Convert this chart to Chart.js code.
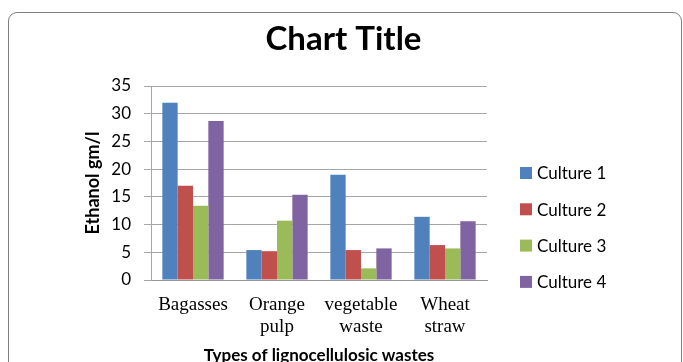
<!DOCTYPE html>
<html>
<head>
<meta charset="utf-8">
<script src="https://cdn.jsdelivr.net/npm/chart.js@4/dist/chart.umd.min.js"></script>
<style>
  html, body { margin: 0; padding: 0; background: #fff; overflow: hidden; }
  #wrap { position: relative; width: 683px; height: 380px; }
  #frame {
    position: absolute; left: 8px; top: 12px; width: 674px; height: 400px;
    border: 1px solid #7f7f7f; border-radius: 9px; box-sizing: border-box;
  }
  #c { position: absolute; left: 0; top: 0; }
</style>
</head>
<body>
<div id="wrap">
  <div id="frame"></div>
  <canvas id="c" width="683" height="380"></canvas>
</div>
<script>
// Ethanol yield per waste type, one series per culture
const categories = ["Bagasses", ["Orange", "pulp"], ["vegetable", "waste"], ["Wheat", "straw"]];
const seriesNames = ["Culture 1", "Culture 2", "Culture 3", "Culture 4"];
const culture1 = [32, 5.4, 19, 11.4];
const culture2 = [17, 5.2, 5.4, 6.3];
const culture3 = [13.4, 10.7, 2.1, 5.7];
const culture4 = [28.7, 15.4, 5.7, 10.6];
const yTicks = [0, 5, 10, 15, 20, 25, 30, 35];
const chartTitle = "Chart Title";
const colors = ["#4f81bd", "#c0504d", "#9bbb59", "#8064a2"];

const seriesValues = [culture1, culture2, culture3, culture4];
const datasets = seriesNames.map((name, i) => ({
  label: name,
  data: seriesValues[i],
  backgroundColor: colors[i],
  borderWidth: 0
}));

const sans = "Lato, 'Open Sans', sans-serif";

// Title centred on the whole canvas, legend at the right of the plot
const frameText = {
  id: "frameText",
  afterDraw(chart) {
    const ctx = chart.ctx;
    ctx.save();
    ctx.fillStyle = "#000";
    ctx.textAlign = "center";
    ctx.textBaseline = "middle";
    ctx.font = "bold 33px " + sans;
    ctx.fillText(chartTitle, chart.width / 2 + 2, 39);

    ctx.font = "17px " + sans;
    ctx.textAlign = "left";
    const x = 520, y0 = 173, step = 36.3, box = 12;
    chart.data.datasets.forEach((ds, i) => {
      const y = y0 + i * step;
      ctx.fillStyle = ds.backgroundColor;
      ctx.fillRect(x, y - box / 2, box, box);
      ctx.fillStyle = "#000";
      ctx.fillText(ds.label, x + box + 5, y + 1);
    });
    ctx.restore();
  }
};

new Chart(document.getElementById("c"), {
  type: "bar",
  data: { labels: categories, datasets },
  plugins: [frameText],
  options: {
    responsive: false,
    animation: false,
    layout: { padding: { left: 80, right: 196, top: 86, bottom: 14 } },
    datasets: { bar: { categoryPercentage: 0.73, barPercentage: 1 } },
    plugins: {
      legend: { display: false },
      tooltip: { enabled: false },
      title: { display: false }
    },
    scales: {
      x: {
        afterFit(scale) { scale.height = 86; },
        grid: { display: false, drawTicks: false },
        border: { display: true, color: "#969696", width: 1 },
        ticks: {
          color: "#000",
          padding: 14,
          maxRotation: 0,
          autoSkip: false,
          font: { family: "'Liberation Serif', 'Times New Roman', serif", size: 19, lineHeight: 1.15 }
        },
        title: {
          display: true,
          text: "Types of lignocellulosic wastes",
          color: "#000",
          font: { family: sans, size: 17, weight: "bold", lineHeight: 1.2 },
          padding: { top: 0, bottom: 0 }
        }
      },
      y: {
        min: 0,
        max: 35,
        afterFit(scale) { scale.width = 71; },
        afterBuildTicks(scale) { scale.ticks = yTicks.map(v => ({ value: v })); },
        grid: { color: "#a6a6a6", tickLength: 7, drawTicks: true },
        border: { display: true, color: "#a6a6a6", width: 1 },
        ticks: {
          color: "#000",
          padding: 13,
          font: { family: sans, size: 17 }
        },
        title: {
          display: true,
          text: "Ethanol gm/l",
          color: "#000",
          font: { family: sans, size: 18, weight: "bold", lineHeight: 1.2 },
          padding: { top: 2, bottom: 0 }
        }
      }
    }
  }
});
</script>
</body>
</html>
